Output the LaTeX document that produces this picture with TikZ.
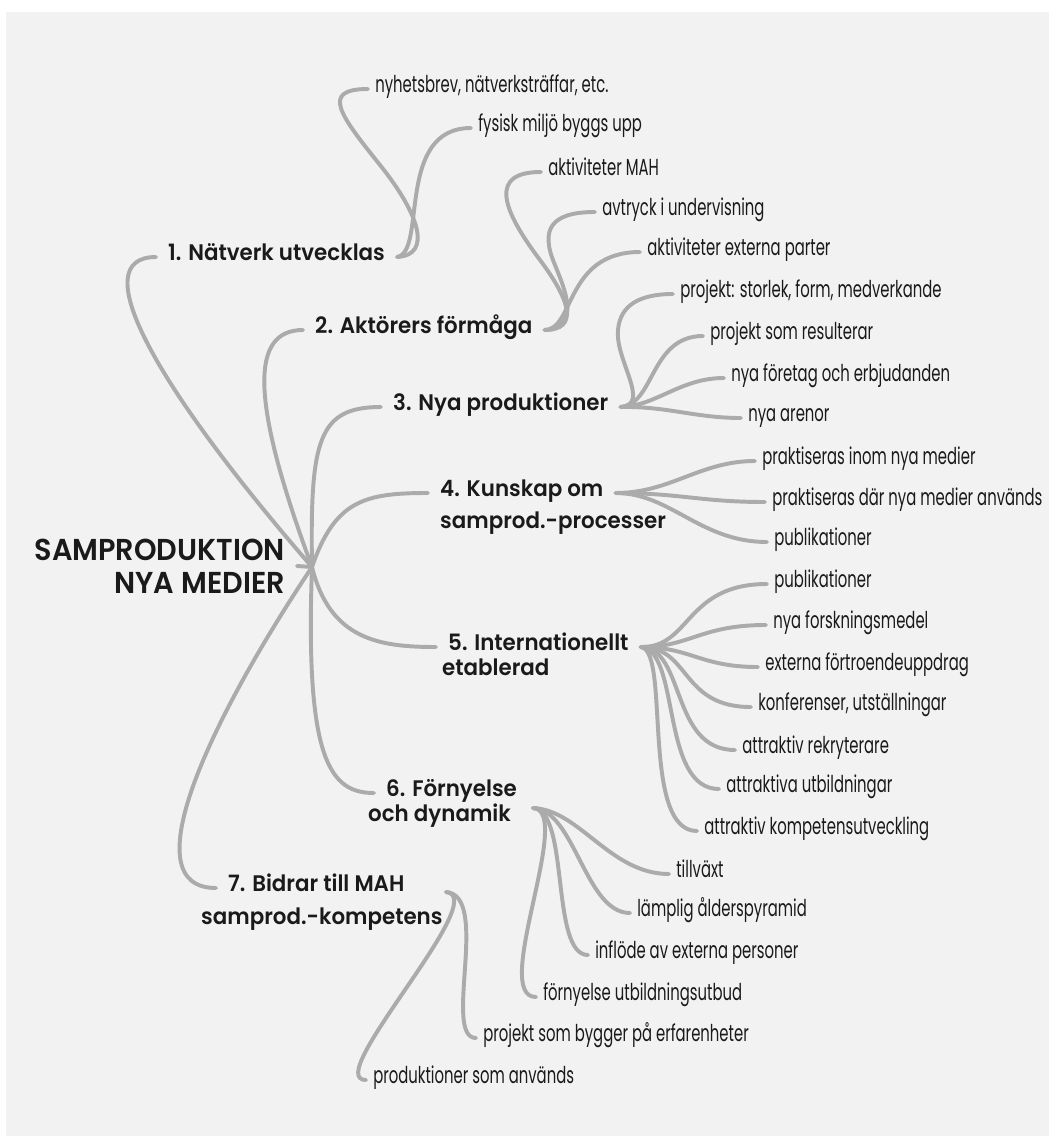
\documentclass[tikz,border=0pt]{standalone}
\usepackage{fontspec}
\setmainfont{Poppins}
\newfontfamily\labfont{Poppins SemiBold}[FakeStretch=0.95]
\newfontfamily\leaffont{Poppins}[FakeStretch=0.64]
\usetikzlibrary{positioning}
\definecolor{mmBg}{HTML}{F2F2F2}
\definecolor{mmLine}{HTML}{ABABAB}
\definecolor{mmInk}{HTML}{1A1A1A}

\begin{document}
\begin{tikzpicture}[x=0.025cm, y=-0.025cm,
  rootlab/.style={font=\labfont\fontsize{21.5}{23.5}\selectfont, text=mmInk, align=right,
                  anchor=east, inner xsep=8.5pt},
  main/.style={font=\labfont\fontsize{16}{19}\selectfont, text=mmInk, anchor=west,
               inner xsep=8.5pt, inner ysep=2pt, text height=0.75em, text depth=0.2em},
  leaf/.style={font=\leaffont\fontsize{16.5}{19}\selectfont, text=mmInk, anchor=west,
               inner xsep=5pt, inner ysep=2pt, text height=0.75em, text depth=0.2em},
  link/.style={draw=mmLine, line width=2.8pt, line cap=round}
]
\useasboundingbox (0,0) rectangle (1052,1138);
\fill[white] (0,0) rectangle (1052,1138);
\fill[mmBg] (6,12) rectangle (1049,1136);

% centre and main branches
\node[rootlab] (root) at (297,566) {SAMPRODUKTION\\NYA MEDIER};
\node[main] (natverk) at (156,257) {1. Nätverk utvecklas};
\node[main] (aktorer) at (303,330) {2. Aktörers förmåga};
\node[main] (prod) at (381,407) {3. Nya produktioner};
\node[main] (kunskap) at (428,493) {4. Kunskap om};
\node[main] (kunskapB) at (428,525) {samprod.-processer};
\node[main] (intl) at (436,647) {5. Internationellt};
\node[main] (intlB) at (430,672) {etablerad};
\node[main] (fornyelse) at (374,793) {6. Förnyelse};
\node[main] (fornyelseB) at (356,818) {och dynamik};
\node[main] (bidrar) at (216,888) {7. Bidrar till MAH};
\node[main] (bidrarB) at (189,921) {samprod.-kompetens};

\coordinate (hub) at (312,567);
\coordinate (hub6) at (533,808);
\coordinate (hub7) at (446,892);

% leaves
\node[leaf] (nyhet) at (368,89) {nyhetsbrev, nätverksträffar, etc.};
\node[leaf] (fysisk) at (471,128) {fysisk miljö byggs upp};
\node[leaf] (aktmah) at (541,172) {aktiviteter MAH};
\node[leaf] (avtryck) at (595,212) {avtryck i undervisning};
\node[leaf] (aktext) at (640,252) {aktiviteter externa parter};
\node[leaf] (storlek) at (673,294) {projekt: storlek, form, medverkande};
\node[leaf] (resultat) at (703,336) {projekt som resulterar};
\node[leaf] (foretag) at (724,378) {nya företag och erbjudanden};
\node[leaf] (arenor) at (741,418) {nya arenor};
\node[leaf] (inom) at (755,461) {praktiseras inom nya medier};
\node[leaf] (dar) at (765,502) {praktiseras där nya medier används};
\node[leaf] (publA) at (767,542) {publikationer};
\node[leaf] (publB) at (767,584) {publikationer};
\node[leaf] (medel) at (766,625) {nya forskningsmedel};
\node[leaf] (fortroende) at (758,667) {externa förtroendeuppdrag};
\node[leaf] (konf) at (751,707) {konferenser, utställningar};
\node[leaf] (rekr) at (735,750) {attraktiv rekryterare};
\node[leaf] (utb) at (719,789) {attraktiva utbildningar};
\node[leaf] (komp) at (697,831) {attraktiv kompetensutveckling};
\node[leaf] (tillvaxt) at (669,874) {tillväxt};
\node[leaf] (alder) at (630,913) {lämplig ålderspyramid};
\node[leaf] (inflode) at (588,955) {inflöde av externa personer};
\node[leaf] (utbud) at (536,997) {förnyelse utbildningsutbud};
\node[leaf] (erfar) at (476,1038) {projekt som bygger på erfarenheter};
\node[leaf] (anvands) at (366,1080) {produktioner som används};

% connectors from the centre
\draw[link] (root.east) -- (hub);
\draw[link] (hub) .. controls (150,380) and (85,257) .. (natverk.west);
\draw[link] (hub) .. controls (250,400) and (250,330) .. (aktorer.west);
\draw[link] (hub) .. controls (310,440) and (318,407) .. (prod.west);
\draw[link] (hub) .. controls (335,500) and (365,493) .. (kunskap.west);
\draw[link] (hub) .. controls (330,640) and (380,647) .. (intl.west);
\draw[link] (hub) .. controls (305,760) and (330,793) .. (fornyelse.west);
\draw[link] (hub) .. controls (210,720) and (130,888) .. (bidrar.west);

% 1
\draw[link] (natverk.east) .. controls +(35,-2) and (420,215) .. (380,165)
  .. controls (340,115) and (320,89) .. (nyhet.west);
\draw[link] (natverk.east) .. controls +(30,-5) and (395,128) .. (fysisk.west);
% 2
\draw[link] (aktorer.east) .. controls +(35,0) and (570,300) .. (540,260)
  .. controls (500,207) and (490,172) .. (aktmah.west);
\draw[link] (aktorer.east) .. controls +(37,-3) and (565,290) .. (555,265)
  .. controls (540,230) and (550,212) .. (avtryck.west);
\draw[link] (aktorer.east) .. controls +(30,0) and (565,252) .. (aktext.west);
% 3
\draw[link] (prod.east) .. controls +(31,-2) and (615,360) .. (618,330)
  .. controls (620,305) and (640,294) .. (storlek.west);
\draw[link] (prod.east) .. controls +(34,-2) and (650,336) .. (resultat.west);
\draw[link] (prod.east) .. controls +(36,-1) and (680,378) .. (foretag.west);
\draw[link] (prod.east) .. controls +(46,-1) and (695,418) .. (arenor.west);
% 4
\draw[link] (kunskap.east) .. controls +(55,0) and (700,461) .. (inom.west);
\draw[link] (kunskap.east) .. controls +(65,0) and (700,502) .. (dar.west);
\draw[link] (kunskap.east) .. controls +(55,0) and (700,542) .. (publA.west);
% 5
\draw[link] (intl.east) .. controls +(50,1) and (685,584) .. (publB.west);
\draw[link] (intl.east) .. controls +(50,0) and (700,625) .. (medel.west);
\draw[link] (intl.east) .. controls +(50,0) and (700,667) .. (fortroende.west);
\draw[link] (intl.east) .. controls +(50,0) and (680,707) .. (konf.west);
\draw[link] (intl.east) .. controls +(45,1) and (670,750) .. (rekr.west);
\draw[link] (intl.east) .. controls +(40,3) and (660,789) .. (utb.west);
\draw[link] (intl.east) .. controls +(30,3) and (640,831) .. (komp.west);
% 6
\draw[link] (hub6) .. controls +(47,2) and (610,874) .. (tillvaxt.west);
\draw[link] (hub6) .. controls +(42,2) and (585,913) .. (alder.west);
\draw[link] (hub6) .. controls +(37,2) and (550,955) .. (inflode.west);
\draw[link] (hub6) .. controls +(42,2) and (490,997) .. (utbud.west);
% 7
\draw[link] (hub7) .. controls +(45,3) and (442,1038) .. (erfar.west);
\draw[link] (hub7) .. controls +(47,5) and (320,1080) .. (anvands.west);
\end{tikzpicture}
\end{document}
